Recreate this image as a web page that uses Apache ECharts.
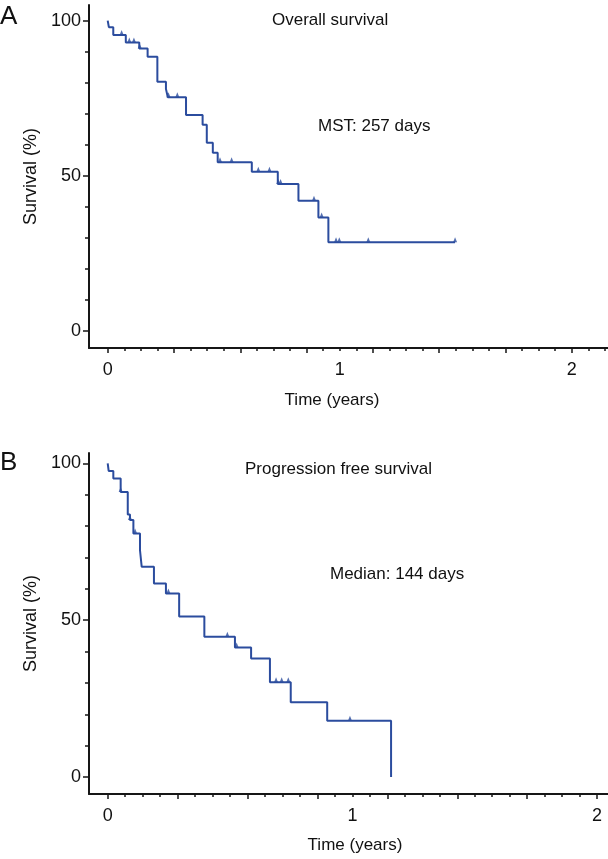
<!DOCTYPE html>
<html><head><meta charset="utf-8">
<script src="https://cdn.jsdelivr.net/npm/echarts@6.0.0/dist/echarts.min.js"></script>
<style>html,body{margin:0;padding:0;background:#fff}#c{width:608px;height:859px}</style>
</head><body><div id="c"></div>
<script>
// ---- Panel A: Overall survival (time in years, survival %) ----
const osTimes = [0, 0.005, 0.024, 0.078, 0.136, 0.172, 0.214, 0.251, 0.259, 0.3375, 0.409, 0.427, 0.453, 0.474, 0.621, 0.733, 0.822, 0.908, 0.951, 1.497];
const osSurv  = [100, 97.9, 95.4, 93.0, 91.0, 88.4, 80.3, 78.0, 75.3, 69.6, 66.4, 60.6, 57.4, 54.3, 51.3, 47.3, 41.9, 36.5, 28.5, 28.5];
const osCensorTimes = [0.060, 0.093, 0.113, 0.138, 0.262, 0.300, 0.484, 0.534, 0.649, 0.697, 0.735, 0.745, 0.889, 0.922, 0.984, 0.998, 1.123, 1.497];
const osCensorSurv  = [95.4, 93.0, 93.0, 91.0, 75.3, 75.3, 54.3, 54.3, 51.3, 51.3, 47.3, 47.3, 41.9, 36.5, 28.5, 28.5, 28.5, 28.5];

// ---- Panel B: Progression free survival ----
const pfsTimes = [0, 0.004, 0.023, 0.053, 0.082, 0.091, 0.105, 0.132, 0.139, 0.189, 0.238, 0.292, 0.395, 0.520, 0.586, 0.663, 0.748, 0.897, 1.158];
const pfsSurv  = [100, 97.6, 95.2, 90.9, 83.7, 81.9, 77.6, 72.3, 67.0, 61.7, 58.5, 51.2, 44.7, 41.3, 37.8, 30.2, 23.8, 17.9, 0];
const pfsCensorTimes = [0.053, 0.091, 0.112, 0.248, 0.489, 0.527, 0.688, 0.711, 0.738, 0.990];
const pfsCensorSurv  = [90.9, 81.9, 77.6, 58.5, 44.7, 41.3, 30.2, 30.2, 30.2, 17.9];

// ---- Tick values / labels ----
const yTickLabels = [0, 50, 100];
const yMinorTicks = [10, 20, 30, 40, 60, 70, 80, 90];
const xTickLabels = [0, 1, 2];
const xMajorTicks = [0, 0.2857, 0.5714, 0.8571, 1.1429, 1.4286, 1.7143, 2];
const xMinorTicksA = [0.0714, 0.1429, 0.2143, 0.3571, 0.4286, 0.5, 0.6429, 0.7143, 0.7857, 0.9286, 1, 1.0714, 1.2143, 1.2857, 1.3571, 1.5, 1.5714, 1.6429, 1.7857, 1.8571, 1.9286, 2.0714, 2.1429];
const xMinorTicksB = [0.0714, 0.1429, 0.2143, 0.3571, 0.4286, 0.5, 0.6429, 0.7143, 0.7857, 0.9286, 1, 1.0714, 1.2143, 1.2857, 1.3571, 1.5, 1.5714, 1.6429, 1.7857, 1.8571, 1.9286];

const FONT = 'Liberation Sans';
const INK = '#161616';
const TXT = '#111';
const BLUE = '#2b4c9e';

function zip(a, b) { return a.map((v, i) => [v, b[i]]); }

function xPair(grid, min, max, minor) {
  return [
    { type: 'value', gridIndex: grid, min: min, max: max, position: 'bottom',
      axisLine: { show: true, onZero: false, lineStyle: { color: INK, width: 2 } },
      splitLine: { show: false },
      axisTick: { show: true, customValues: xMajorTicks, length: 5, lineStyle: { color: INK, width: 1.5 } },
      axisLabel: { show: true, customValues: xTickLabels, formatter: v => String(Math.round(v)), margin: 13,
                   fontSize: 18, color: TXT, fontFamily: FONT } },
    { type: 'value', gridIndex: grid, min: min, max: max, position: 'bottom',
      axisLine: { show: false, onZero: false },
      splitLine: { show: false },
      axisTick: { show: true, customValues: minor, length: 3, lineStyle: { color: INK, width: 1.5 } },
      axisLabel: { show: false } }
  ];
}
function yPair(grid, min, max) {
  return [
    { type: 'value', gridIndex: grid, min: min, max: max, position: 'left',
      name: 'Survival (%)', nameLocation: 'middle', nameGap: 47,
      nameTextStyle: { fontSize: 18, color: TXT, fontFamily: FONT },
      axisLine: { show: true, onZero: false, lineStyle: { color: INK, width: 2 } },
      splitLine: { show: false },
      axisTick: { show: true, customValues: yTickLabels, length: 6, lineStyle: { color: INK, width: 1.5 } },
      axisLabel: { show: true, customValues: yTickLabels, margin: 8, fontSize: 18, color: TXT, fontFamily: FONT } },
    { type: 'value', gridIndex: grid, min: min, max: max, position: 'left',
      axisLine: { show: false, onZero: false },
      splitLine: { show: false },
      axisTick: { show: true, customValues: yMinorTicks, length: 4, lineStyle: { color: INK, width: 1.5 } },
      axisLabel: { show: false } }
  ];
}
function km(data, xi, yi) {
  return { type: 'line', step: 'end', data: data, xAxisIndex: xi, yAxisIndex: yi, symbol: 'none',
           lineStyle: { color: BLUE, width: 2 }, animation: false, z: 3 };
}
function censor(data, xi, yi) {
  return { type: 'scatter', data: data, xAxisIndex: xi, yAxisIndex: yi, symbol: 'triangle',
           symbolSize: [4, 5], symbolOffset: [0, -2.5], itemStyle: { color: BLUE }, animation: false, z: 4 };
}
function txt(t, x, y, size, align) {
  return { type: 'text', x: x, y: y, style: { text: t, fontSize: size, fontFamily: FONT, fill: TXT,
           align: align || 'left', verticalAlign: 'middle' } };
}

const chart = echarts.init(document.getElementById('c'), null, { renderer: 'canvas' });
chart.setOption({
  backgroundColor: '#fff',
  animation: false,
  grid: [
    { left: 89, top: 5, width: 519, height: 343 },
    { left: 89, top: 453, width: 519, height: 341 }
  ],
  xAxis: [].concat(xPair(0, -0.0806, 2.156, xMinorTicksA), xPair(1, -0.0764, 2.0445, xMinorTicksB)),
  yAxis: [].concat(yPair(0, -5.58, 105.06), yPair(1, -5.42, 103.3)),
  series: [
    km(zip(osTimes, osSurv), 0, 0),
    censor(zip(osCensorTimes, osCensorSurv), 0, 0),
    km(zip(pfsTimes, pfsSurv), 2, 2),
    censor(zip(pfsCensorTimes, pfsCensorSurv), 2, 2)
  ],
  graphic: [
    txt('A', 0, 17, 26),
    txt('Overall survival', 272, 20, 17),
    txt('MST: 257 days', 318, 126, 17),
    txt('Time (years)', 332, 400, 17, 'center'),
    txt('B', 0, 463, 26),
    txt('Progression free survival', 245, 469, 17),
    txt('Median: 144 days', 330, 574, 17),
    txt('Time (years)', 355, 845, 17, 'center')
  ]
});
</script></body></html>
